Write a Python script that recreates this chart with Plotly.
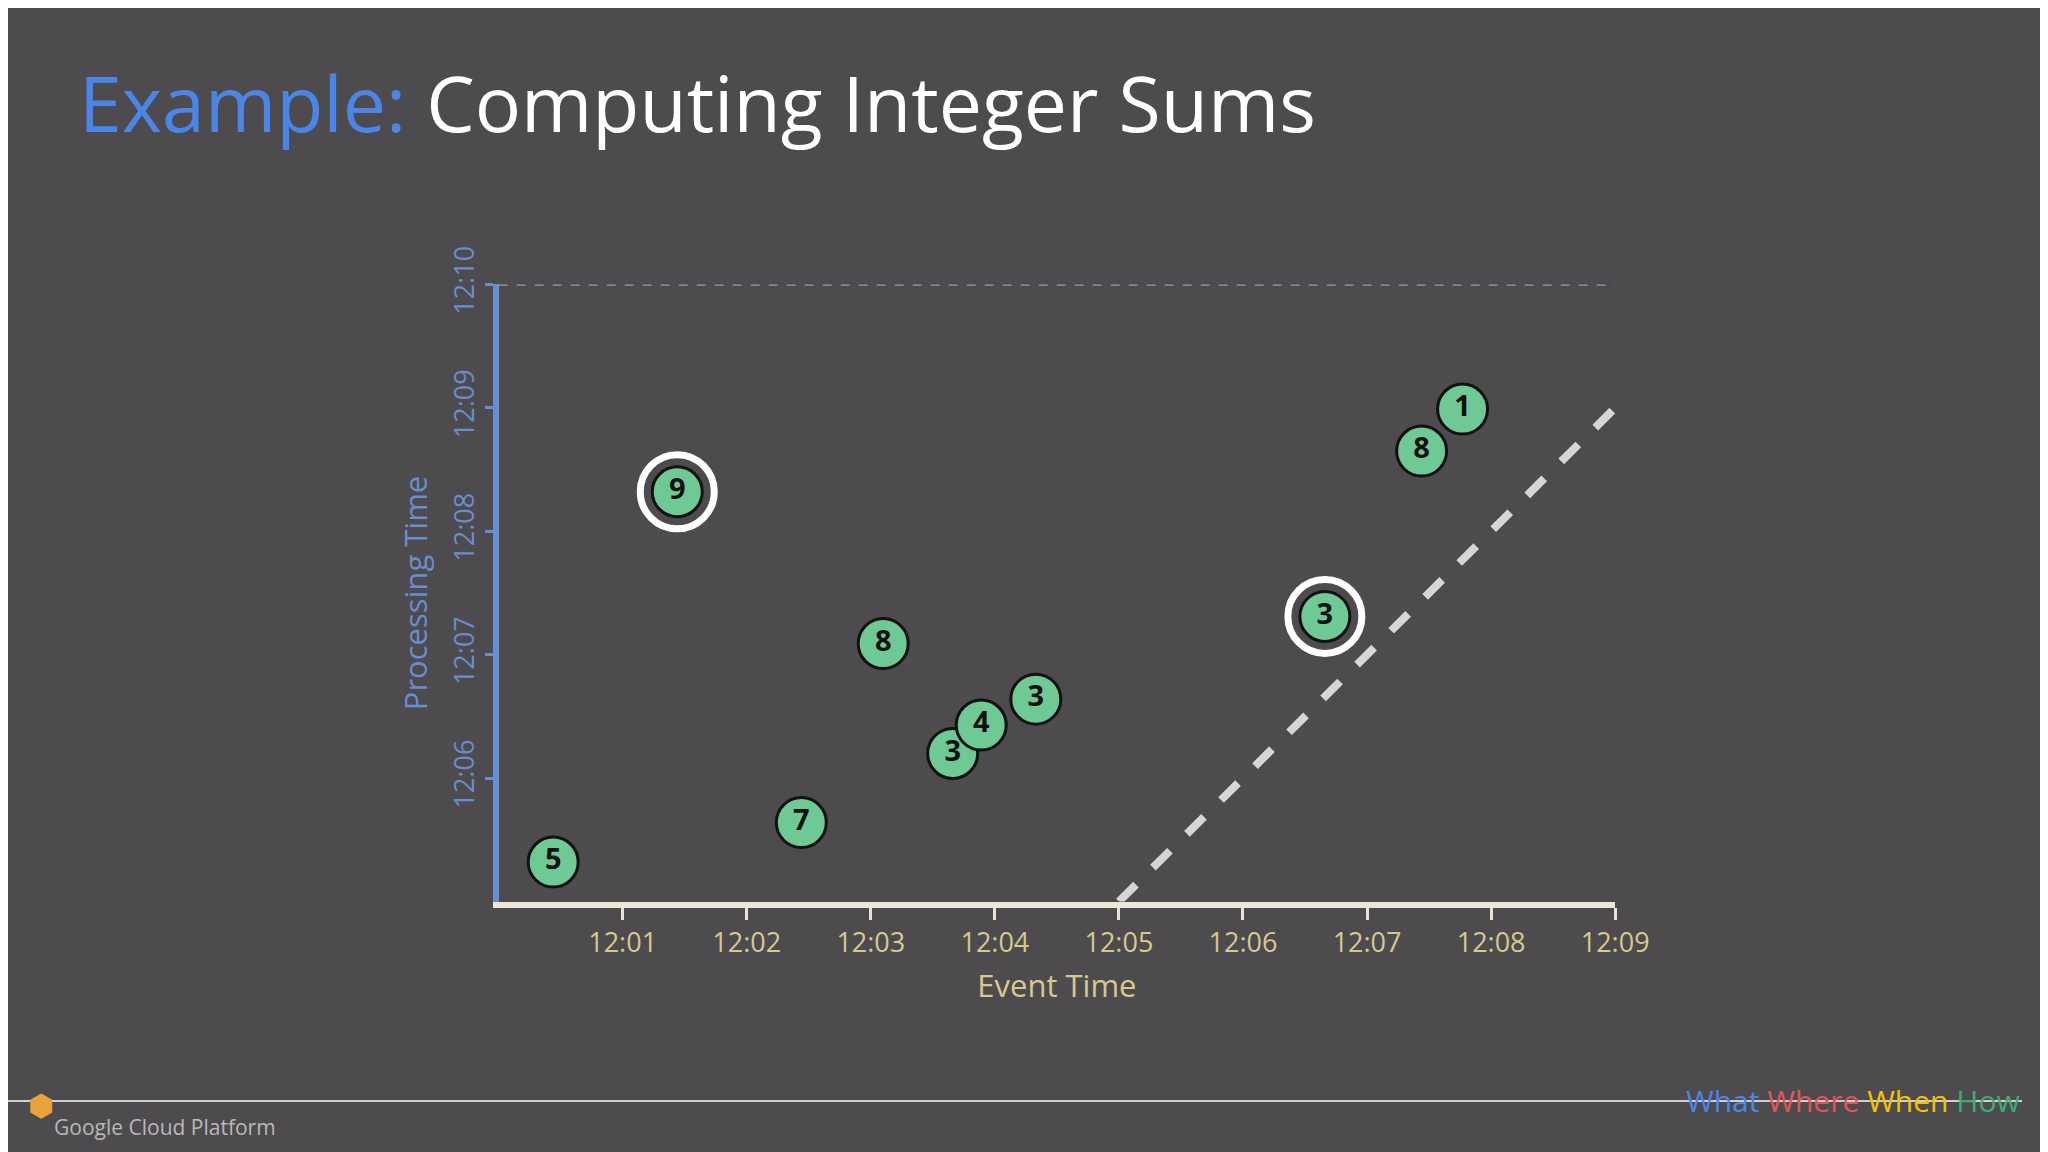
import plotly.graph_objects as go

# event time (minutes after 12:00) and processing time (minutes after 12:05)
values = [5, 9, 7, 8, 3, 4, 3, 3, 8, 1]
event_min = [0.44, 1.44, 2.44, 3.10, 3.66, 3.89, 4.33, 6.66, 7.44, 7.77]
proc_min = [0.32, 3.32, 0.64, 2.09, 1.20, 1.43, 1.64, 2.31, 3.65, 3.99]
circled = [False, True, False, False, False, False, False, True, False, False]

x_ticks = [1, 2, 3, 4, 5, 6, 7, 8, 9]
x_labels = ["12:01", "12:02", "12:03", "12:04", "12:05", "12:06", "12:07", "12:08", "12:09"]
y_ticks = [1, 2, 3, 4, 5]
y_labels = ["12:06", "12:07", "12:08", "12:09", "12:10"]

wm_x = [5, 9]
wm_y = [0, 4]

BG = "#4d4b4d"
GREEN = "#6fc995"
YELLOW = "#d8c88c"
BLUE = "#6a8cd0"

fig = go.Figure()

fig.add_trace(go.Scatter(x=[0, 9], y=[5, 5], mode="lines",
                         line=dict(color="#9a9aaa", width=2.5, dash="dash"), hoverinfo="skip"))
fig.add_trace(go.Scatter(x=wm_x, y=wm_y, mode="lines",
                         line=dict(color="#d6d6d6", width=8, dash="dash"), hoverinfo="skip"))

cx = [x for x, c in zip(event_min, circled) if c]
cy = [y for y, c in zip(proc_min, circled) if c]
fig.add_trace(go.Scatter(x=cx, y=cy, mode="markers",
                         marker=dict(size=74, color=BG, line=dict(color="white", width=7)),
                         hoverinfo="skip"))
fig.add_trace(go.Scatter(x=event_min, y=proc_min, mode="markers+text",
                         text=["<b>%d</b>" % v for v in values], textposition="middle center",
                         textfont=dict(family="Open Sans", size=29, color="#111111"),
                         marker=dict(size=50, color=GREEN, line=dict(color="#111111", width=3))))

fig.update_layout(
    width=2048, height=1152, showlegend=False,
    paper_bgcolor=BG, plot_bgcolor=BG,
    margin=dict(l=0, r=0, t=0, b=0),
    font=dict(family="Open Sans"),
    xaxis=dict(domain=[0.2436, 0.798], range=[0, 9], showgrid=False, zeroline=False,
               tickvals=x_ticks, ticktext=x_labels, ticks="outside", ticklen=12,
               tickwidth=3, tickcolor="#e8e4d0", showline=True, linecolor="#ece8d8",
               linewidth=6, tickfont=dict(size=27, color=YELLOW),
               title=dict(text="Event Time", font=dict(size=31, color=YELLOW), standoff=18)),
    yaxis=dict(domain=[0.232, 0.786], range=[0, 5], showgrid=False, zeroline=False,
               tickvals=y_ticks, ticktext=y_labels, ticks="outside", ticklen=8,
               tickwidth=3, tickcolor=BLUE, showline=True, linecolor=BLUE, linewidth=6,
               tickangle=-90, tickfont=dict(size=27, color=BLUE),
               title=dict(text="Processing Time", font=dict(size=31, color=BLUE), standoff=10)),
)

fig.add_annotation(x=0.0345, y=0.949, xref="paper", yref="paper", xanchor="left", yanchor="middle",
                   showarrow=False,
                   text="<span style='color:#4a86e8'>Example:</span> Computing Integer Sums",
                   font=dict(family="Open Sans", size=77, color="white"))
fig.add_shape(type="line", xref="paper", yref="paper", x0=0, x1=1, y0=0.053, y1=0.053,
              line=dict(color="#cfcfcf", width=2))
fig.add_annotation(x=0.022, y=0.03, xref="paper", yref="paper", xanchor="left", yanchor="middle",
                   showarrow=False, text="Google Cloud Platform",
                   font=dict(family="Open Sans", size=21, color="#b8b8b8"))
fig.add_annotation(x=0.009, y=0.03, xref="paper", yref="paper", showarrow=False, text="⬢",
                   font=dict(size=30, color="#e8a33c"))
fig.add_annotation(x=1.0, y=0.053, xref="paper", yref="paper", xanchor="right", yanchor="middle",
                   showarrow=False,
                   text="<span style='color:#4a86e8'>What</span> <span style='color:#e05555'>Where</span> "
                        "<span style='color:#f2c200'>When</span> <span style='color:#3dab6e'>How</span>",
                   font=dict(family="Open Sans", size=30))

fig.write_html("out.html")
